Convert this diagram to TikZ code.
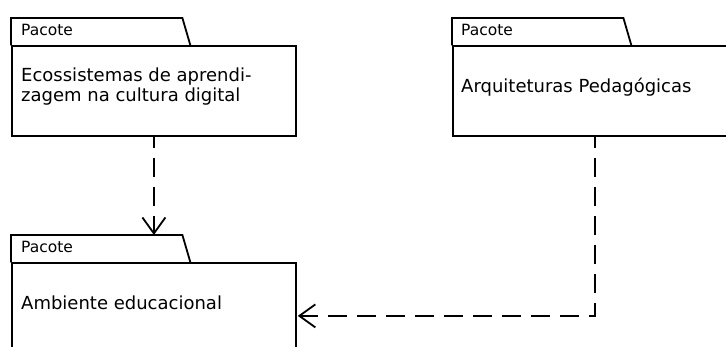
\documentclass[tikz,border=0pt]{standalone}
\usepackage{fontspec}
\setmainfont{DejaVu Sans}
\usetikzlibrary{arrows.meta}
\begin{document}
\begin{tikzpicture}[x=1pt,y=-1pt,
  body/.style={draw,line width=1.8pt,minimum width=284pt,inner sep=0pt,anchor=north west},
  tabbox/.style={inner sep=0pt,minimum width=171pt,minimum height=27pt,anchor=north west},
  tabline/.style={draw,line width=1.8pt,line join=miter},
  pkglabel/.style={font=\fontsize{15.5}{18}\selectfont,anchor=base west,inner sep=0pt},
  txt/.style={font=\fontsize{18}{21}\selectfont,anchor=base west,inner sep=0pt},
  dep/.style={line width=1.8pt,dash pattern=on 19pt off 10pt,dash phase=8pt,
    -{Straight Barb[length=16pt,width=23pt]}}]
\clip (0,0) rectangle (726,347);
% package 1
\node[body,minimum height=90pt] (b1) at (11,45) {};
\node[tabbox] (t1) at (11,18) {};
\draw[tabline] (t1.south west) -- (t1.north west) -- (t1.north east) -- ([xshift=8pt]t1.south east);
\node[pkglabel] (p1) at (21,36) {Pacote};
\node[txt] (x1a) at (21,82) {Ecossistemas de aprendi-};
\node[txt] (x1b) at (21,101.5) {zagem na cultura digital};
% package 2
\node[body,minimum height=90pt] (b2) at (452,45) {};
\node[tabbox] (t2) at (452,18) {};
\draw[tabline] (t2.south west) -- (t2.north west) -- (t2.north east) -- ([xshift=8pt]t2.south east);
\node[pkglabel] (p2) at (461,36) {Pacote};
\node[txt] (x2) at (461,93) {Arquiteturas Pedagógicas};
% package 3
\node[body,minimum height=106pt] (b3) at (11,262) {};
\node[tabbox] (t3) at (11,235) {};
\draw[tabline] (t3.south west) -- (t3.north west) -- (t3.north east) -- ([xshift=8pt]t3.south east);
\node[pkglabel] (p3) at (21,253) {Pacote};
\node[txt] (x3) at (21,310) {Ambiente educacional};
% dependencies
\draw[dep] (b1.south) -- (b1.south |- t3.north);
\draw[dep] (b2.south) |- ([xshift=1pt]b3.east);
\end{tikzpicture}
\end{document}
